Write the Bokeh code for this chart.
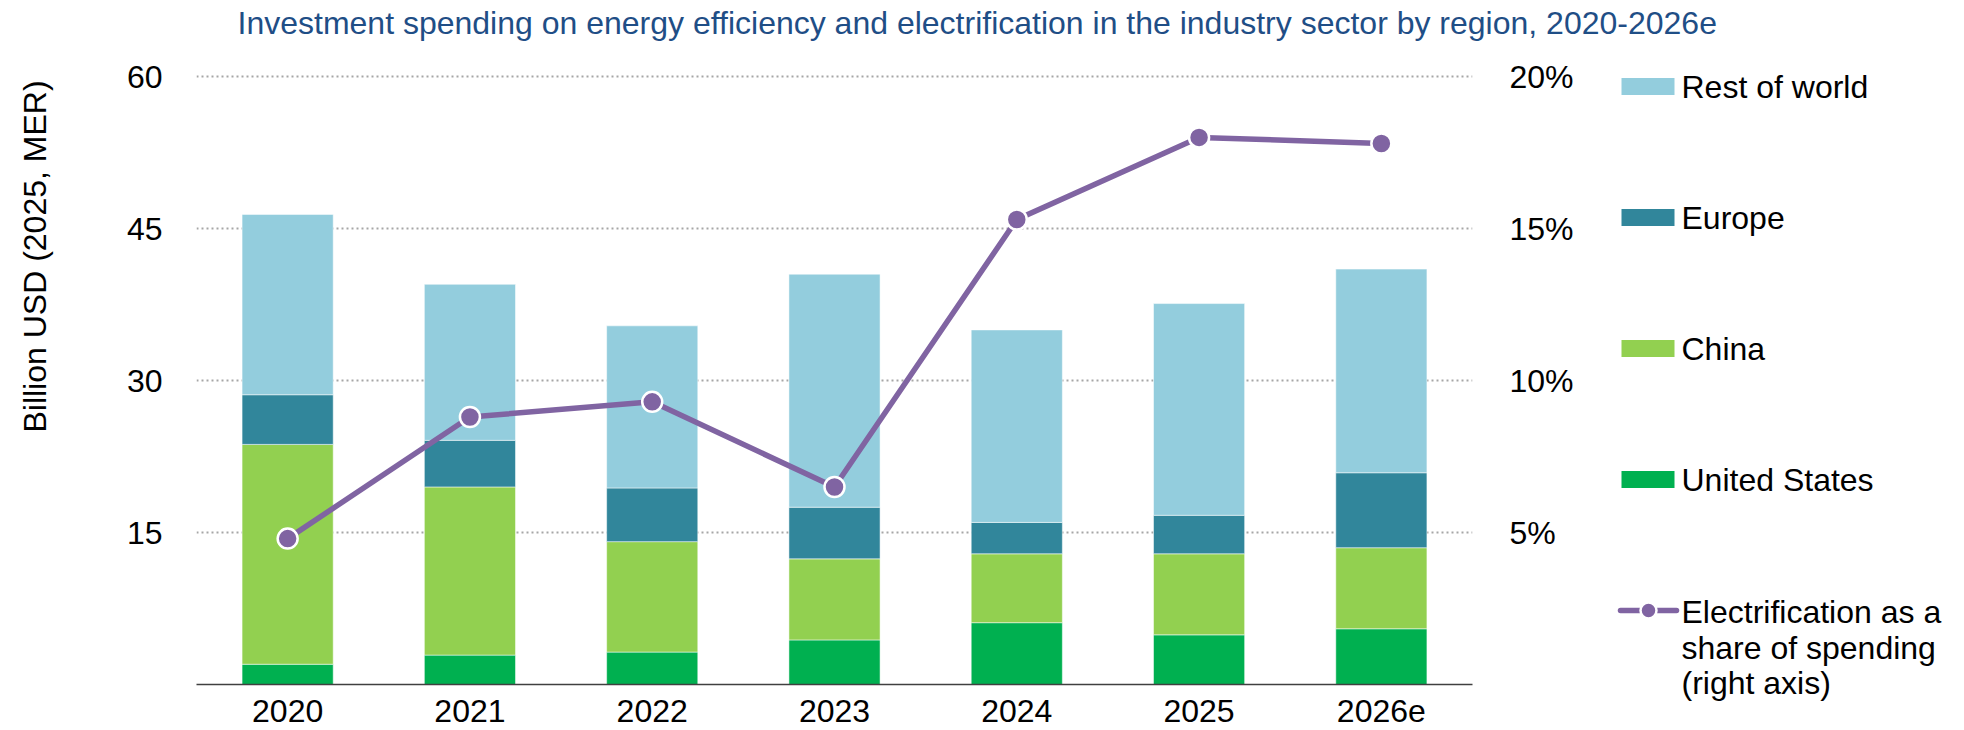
import math

from bokeh.plotting import figure
from bokeh.layouts import column, row
from bokeh.models import (ColumnDataSource, FactorRange, Range1d, LinearAxis, FixedTicker,
                          PrintfTickFormatter)
from bokeh.core.properties import value
from bokeh.embed import file_html
from bokeh.resources import INLINE

# ---- data -------------------------------------------------------------------
years = ["2020", "2021", "2022", "2023", "2024", "2025", "2026e"]
united_states = [2.0, 2.9, 3.2, 4.4, 6.1, 4.9, 5.5]
china = [21.7, 16.6, 10.9, 8.0, 6.8, 8.0, 8.0]
europe = [4.9, 4.6, 5.3, 5.1, 3.1, 3.8, 7.4]
rest_of_world = [17.8, 15.4, 16.0, 23.0, 19.0, 20.9, 20.1]
electrification_share = [4.8, 8.8, 9.3, 6.5, 15.3, 18.0, 17.8]  # percent, right axis

left_ticks = [15, 30, 45, 60]
right_ticks = [5, 10, 15, 20]

series_names = ["United States", "China", "Europe", "Rest of world"]
series_keys = ["us", "china", "europe", "row"]
series_colors = ["#00B050", "#92D050", "#31869B", "#93CDDD"]
legend_order = ["Rest of world", "Europe", "China", "United States"]
line_label = ["Electrification as a", "share of spending", "(right axis)"]

LINE_COLOR = "#8064A2"
TITLE_COLOR = "#1F4E86"
FONT = "Liberation Sans"

title_text = ("Investment spending on energy efficiency and electrification "
              "in the industry sector by region, 2020-2026e")

# ---- page geometry (canvas pixels) ------------------------------------------
W, H = 1964, 730
TITLE_H = 50                 # strip holding the chart title
YLAB_W = 70                  # strip holding the vertical axis title
LEG_X0 = 1600                # legend strip starts here
FL, FR, FT, FB = 196, 1472, 66, 684   # plot frame edges
Y_TOP = 61                   # frame top value, leaves room for the 60 gridline
TEXT_DY = -10.5              # baseline correction for the free-standing text glyphs


def no_frame_align(f):
    # keep each strip's own frame instead of lining it up with its neighbours
    if "frame_align" in f.properties():
        f.frame_align = False
    return f


def blank(width, height, x0, x1, y0, y1):
    """A figure whose frame fills it, with data units equal to canvas pixels."""
    f = figure(width=width, height=height, x_range=Range1d(x0, x1), y_range=Range1d(y1, y0),
               x_axis_type=None, y_axis_type=None, output_backend="svg", title=None,
               toolbar_location=None, min_border=0)
    f.outline_line_color = None
    f.background_fill_color = "white"
    f.border_fill_color = "white"
    return no_frame_align(f)


# ---- title strip -------------------------------------------------------------
title_fig = blank(W, TITLE_H, 0, W, 0, TITLE_H)
title_fig.text(x=[237], y=[33 + TEXT_DY], text=[title_text], text_font=value(FONT),
               text_font_size="32px", text_color=TITLE_COLOR,
               text_align="left", text_baseline="alphabetic")

# ---- vertical axis title strip ----------------------------------------------
ylab_fig = blank(YLAB_W, H - TITLE_H, 0, YLAB_W, TITLE_H, H)
ylab_fig.text(x=[44.5 + TEXT_DY], y=[256], text=["Billion USD (2025, MER)"], angle=math.pi / 2,
              text_font=value(FONT), text_font_size="32px", text_color="black",
              text_align="center", text_baseline="alphabetic")

# ---- main chart ---------------------------------------------------------------
source = ColumnDataSource(dict(
    year=years, us=united_states, china=china, europe=europe,
    row=rest_of_world, share=electrification_share,
))

main_w = LEG_X0 - YLAB_W
p = figure(width=main_w, height=H - TITLE_H, x_range=FactorRange(*years),
           y_range=Range1d(0, Y_TOP), output_backend="svg", toolbar_location=None,
           title=None,
           min_border_left=FL - YLAB_W, min_border_right=LEG_X0 - FR,
           min_border_top=FT - TITLE_H, min_border_bottom=H - FB)
no_frame_align(p)
p.outline_line_color = None
p.background_fill_color = "white"
p.border_fill_color = "white"

p.vbar_stack(series_keys, x="year", width=0.5, source=source,
             fill_color=series_colors, line_color="white", line_width=1, line_alpha=0.5)

p.xgrid.visible = False
p.ygrid.ticker = FixedTicker(ticks=left_ticks)
p.ygrid.grid_line_color = "#A6A6A6"
p.ygrid.grid_line_dash = "2 3"
p.ygrid.grid_line_width = 2

yax = p.yaxis[0]
yax.ticker = FixedTicker(ticks=left_ticks)
yax.axis_line_color = None
yax.major_tick_line_color = None
yax.minor_tick_line_color = None
yax.major_label_standoff = 28
yax.major_label_text_font = FONT
yax.major_label_text_font_size = "32px"
yax.major_label_text_color = "black"

xax = p.xaxis[0]
xax.axis_line_color = "#404040"
xax.axis_line_width = 1.5
xax.major_tick_line_color = None
xax.minor_tick_line_color = None
xax.major_label_standoff = 9
xax.major_label_text_font = FONT
xax.major_label_text_font_size = "32px"
xax.major_label_text_color = "black"

p.extra_y_ranges = {"pct": Range1d(0, Y_TOP / 3)}
rax = LinearAxis(y_range_name="pct", ticker=FixedTicker(ticks=right_ticks),
                 formatter=PrintfTickFormatter(format="%d%%"))
rax.axis_line_color = None
rax.major_tick_line_color = None
rax.minor_tick_line_color = None
rax.major_label_standoff = 31
rax.major_label_text_font = FONT
rax.major_label_text_font_size = "32px"
rax.major_label_text_color = "black"
p.add_layout(rax, "right")

p.line("year", "share", source=source, y_range_name="pct",
       line_color=LINE_COLOR, line_width=5.5, line_join="round", line_cap="round")
p.scatter("year", "share", source=source, y_range_name="pct", size=20,
          fill_color=LINE_COLOR, line_color="white", line_width=2.5)

# ---- legend strip ---------------------------------------------------------------
leg = blank(W - LEG_X0, H - TITLE_H, LEG_X0, W, TITLE_H, H)
ROW0, PITCH = 86, 131
SW_X0, SW_X1, SW_H = 1621, 1674, 17
TXT_X = 1681

color_of = dict(zip(series_names, series_colors))
rows_y = [ROW0 + i * PITCH for i in range(len(legend_order) + 1)]
leg.quad(left=[SW_X0] * len(legend_order), right=[SW_X1] * len(legend_order),
         top=[y - SW_H / 2 for y in rows_y[:-1]], bottom=[y + SW_H / 2 for y in rows_y[:-1]],
         fill_color=[color_of[n] for n in legend_order], line_color=None)
leg.text(x=[TXT_X] * len(legend_order), y=[y + 10.5 + TEXT_DY for y in rows_y[:-1]],
         text=legend_order, text_font=value(FONT), text_font_size="32px", text_color="black",
         text_align="left", text_baseline="alphabetic")

ly = rows_y[-1]
leg.line(x=[1620, 1676], y=[ly, ly], line_color=LINE_COLOR, line_width=5.5, line_cap="round")
leg.scatter(x=[1648], y=[ly], size=16, fill_color=LINE_COLOR, line_color="white", line_width=2.5)
leg.text(x=[TXT_X] * 3, y=[ly + 12 + TEXT_DY + k * 35.5 for k in range(3)], text=line_label,
         text_font=value(FONT), text_font_size="32px", text_color="black",
         text_align="left", text_baseline="alphabetic")

layout = column(title_fig, row(ylab_fig, p, leg))

open("out.html", "w").write(file_html(layout, INLINE))
